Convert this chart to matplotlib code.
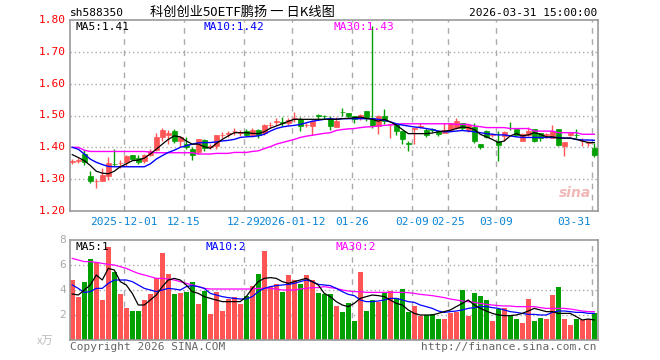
import numpy as np
import matplotlib
matplotlib.use("Agg")
import matplotlib.pyplot as plt
from matplotlib.patches import Rectangle

# ---------------- data ----------------
opens = [1.355,1.358,1.379,1.311,1.293,1.294,1.311,1.348,1.351,1.355,
         1.376,1.368,1.358,1.376,1.391,1.433,1.438,1.451,1.420,1.410,
         1.394,1.384,1.422,1.402,1.405,1.438,1.443,1.451,1.446,1.452,
         1.440,1.455,1.445,1.470,1.480,1.478,1.478,1.490,1.488,1.470,
         1.467,1.500,1.498,1.490,1.464,1.511,1.508,1.498,1.491,1.513,
         1.491,1.467,1.498,1.472,1.472,1.451,1.412,1.458,1.465,1.456,
         1.456,1.451,1.446,1.456,1.462,1.477,1.456,1.464,1.410,1.451,
         1.440,1.420,1.436,1.462,1.458,1.420,1.438,1.458,1.445,1.440,
         1.428,1.458,1.405,1.440,1.440,1.420,1.414,1.398]
closes = [1.356,1.359,1.353,1.293,1.293,1.312,1.350,1.347,1.352,1.374,
          1.363,1.355,1.376,1.389,1.433,1.453,1.445,1.420,1.432,1.402,
          1.376,1.425,1.397,1.403,1.438,1.439,1.444,1.451,1.447,1.440,
          1.455,1.440,1.470,1.471,1.481,1.477,1.485,1.491,1.468,1.471,
          1.482,1.499,1.497,1.468,1.482,1.510,1.498,1.488,1.503,1.493,
          1.467,1.498,1.484,1.473,1.451,1.425,1.411,1.461,1.466,1.439,
          1.455,1.441,1.456,1.477,1.484,1.462,1.470,1.420,1.400,1.434,
          1.441,1.408,1.449,1.461,1.438,1.441,1.452,1.420,1.429,1.441,
          1.450,1.408,1.418,1.446,1.439,1.421,1.416,1.377]
highs = [1.363,1.365,1.391,1.325,1.299,1.335,1.370,1.394,1.360,1.376,
         1.377,1.375,1.380,1.394,1.446,1.462,1.455,1.458,1.436,1.434,
         1.400,1.425,1.425,1.410,1.438,1.447,1.452,1.461,1.455,1.457,
         1.460,1.458,1.472,1.480,1.491,1.495,1.493,1.510,1.495,1.475,
         1.485,1.505,1.503,1.500,1.494,1.522,1.508,1.500,1.505,1.513,
         1.780,1.503,1.521,1.474,1.474,1.451,1.420,1.462,1.478,1.460,
         1.460,1.453,1.477,1.477,1.491,1.477,1.474,1.477,1.410,1.453,
         1.444,1.451,1.451,1.480,1.458,1.446,1.464,1.458,1.446,1.446,
         1.470,1.458,1.408,1.446,1.458,1.430,1.421,1.413]
lows = [1.347,1.350,1.343,1.288,1.272,1.294,1.296,1.342,1.335,1.340,
        1.360,1.348,1.352,1.372,1.388,1.420,1.410,1.415,1.400,1.394,
        1.360,1.380,1.390,1.395,1.395,1.430,1.432,1.440,1.436,1.435,
        1.432,1.430,1.438,1.462,1.470,1.468,1.470,1.480,1.450,1.465,
        1.440,1.490,1.490,1.455,1.464,1.498,1.493,1.475,1.485,1.482,
        1.462,1.441,1.472,1.430,1.439,1.412,1.389,1.412,1.462,1.434,
        1.449,1.436,1.446,1.451,1.457,1.455,1.448,1.415,1.395,1.430,
        1.432,1.358,1.420,1.455,1.436,1.420,1.436,1.418,1.420,1.430,
        1.428,1.403,1.372,1.436,1.428,1.404,1.404,1.370]
volumes = [4.80,3.44,4.64,6.48,6.24,3.20,7.44,5.44,3.68,2.56,
           2.32,2.32,3.20,3.68,4.96,6.96,5.28,3.68,3.76,3.84,
           4.64,2.88,3.92,2.08,3.84,2.32,3.28,3.44,2.88,3.52,
           4.32,5.28,7.12,4.24,4.48,3.84,5.20,4.80,4.48,5.20,
           4.80,3.76,3.68,3.68,2.72,2.24,2.96,1.52,5.44,2.32,
           3.20,3.04,3.84,3.92,3.36,4.08,2.24,2.72,1.92,2.00,
           2.08,1.68,1.68,2.16,2.24,4.00,1.92,3.76,3.52,3.20,
           1.52,2.48,2.56,1.92,1.68,1.36,3.28,1.52,1.76,1.68,
           3.60,4.24,1.68,1.20,1.68,1.60,1.68,2.16]

ma5 = [1.377,1.368,1.358,1.343,1.325,1.319,1.317,1.325,1.339,1.348,
       1.358,1.360,1.366,1.379,1.394,1.410,1.425,1.436,1.433,1.420,
       1.410,1.410,1.402,1.397,1.412,1.425,1.436,1.446,1.446,1.446,
       1.444,1.443,1.449,1.460,1.467,1.474,1.482,1.488,1.488,1.488,
       1.488,1.488,1.488,1.488,1.488,1.490,1.491,1.493,1.495,1.491,
       1.488,1.482,1.488,1.480,1.470,1.456,1.443,1.443,1.443,1.443,
       1.445,1.449,1.451,1.453,1.459,1.464,1.462,1.456,1.441,1.433,
       1.425,1.415,1.420,1.436,1.443,1.436,1.439,1.446,1.441,1.433,
       1.433,1.429,1.429,1.429,1.425,1.420,1.415,1.415]
ma10 = [1.400,1.394,1.379,1.363,1.353,1.346,1.340,1.339,1.339,1.339,
        1.339,1.339,1.339,1.348,1.363,1.374,1.384,1.391,1.400,1.405,
        1.410,1.414,1.415,1.415,1.417,1.420,1.422,1.425,1.431,1.433,
        1.434,1.436,1.441,1.451,1.459,1.464,1.467,1.469,1.472,1.477,
        1.482,1.485,1.488,1.490,1.488,1.490,1.490,1.490,1.490,1.490,
        1.490,1.488,1.485,1.480,1.474,1.470,1.467,1.464,1.462,1.459,
        1.456,1.451,1.449,1.449,1.451,1.453,1.451,1.449,1.446,1.443,
        1.441,1.439,1.439,1.436,1.433,1.431,1.431,1.431,1.431,1.431,
        1.431,1.431,1.429,1.429,1.425,1.423,1.423,1.422]
ma30 = [1.400,1.400,1.391,1.387,1.387,1.387,1.387,1.387,1.387,1.387,
        1.387,1.387,1.387,1.385,1.383,1.383,1.383,1.383,1.383,1.383,
        1.383,1.379,1.379,1.379,1.381,1.381,1.381,1.384,1.384,1.384,
        1.387,1.389,1.396,1.402,1.410,1.415,1.420,1.425,1.431,1.435,
        1.438,1.441,1.444,1.446,1.453,1.456,1.458,1.459,1.462,1.464,
        1.465,1.467,1.469,1.470,1.472,1.474,1.474,1.474,1.474,1.474,
        1.474,1.474,1.474,1.474,1.472,1.472,1.472,1.467,1.465,1.462,
        1.462,1.462,1.462,1.459,1.459,1.459,1.459,1.451,1.451,1.451,
        1.451,1.446,1.446,1.446,1.446,1.441,1.441,1.441]

vma5 = [3.68,3.60,4.00,4.40,5.20,4.80,5.73,5.60,4.67,4.40,
        3.73,2.80,2.80,3.20,3.60,4.27,4.80,4.93,4.80,4.40,
        3.87,3.73,3.47,3.33,3.20,3.07,3.07,3.07,3.07,3.47,
        4.13,4.67,4.93,4.99,4.93,4.67,4.53,4.67,4.80,4.93,
        4.67,4.40,3.73,3.47,3.07,2.80,2.67,2.93,3.33,3.47,
        3.60,3.55,3.47,3.20,2.93,2.80,2.40,2.13,2.00,2.00,
        2.00,2.13,2.27,2.40,2.67,2.93,3.20,2.80,2.53,2.32,
        2.13,2.00,1.95,1.95,2.00,2.13,2.32,2.53,2.40,2.27,
        2.27,2.13,2.13,2.13,1.87,1.60,1.68,1.60]
vma10 = [4.40,4.13,3.80,3.87,4.13,4.13,4.53,4.80,4.80,4.80,
         4.67,4.40,4.13,4.00,3.87,4.00,4.13,4.08,4.00,4.27,
         4.35,4.27,4.13,3.73,3.60,3.47,3.39,3.33,3.28,3.28,
         3.47,3.87,4.13,4.27,4.35,4.40,4.45,4.53,4.67,4.80,
         4.67,4.45,4.40,4.35,4.13,3.87,3.65,3.55,3.20,3.07,
         3.07,3.12,3.20,3.33,3.33,3.20,3.07,3.01,2.80,2.67,
         2.53,2.32,2.21,2.27,2.32,2.40,2.53,2.59,2.67,2.67,
         2.59,2.53,2.40,2.27,2.21,2.13,2.05,2.05,2.00,2.00,
         2.21,2.32,2.32,2.27,2.21,2.21,2.13,2.13]
vma30 = [6.53,6.40,6.27,6.27,6.21,6.13,6.05,6.00,5.87,5.73,
         5.52,5.33,5.20,5.07,4.93,4.93,4.88,4.80,4.67,4.53,
         4.40,4.27,4.13,4.08,4.08,4.08,4.08,4.08,4.08,4.08,
         4.08,4.13,4.13,4.13,4.08,4.00,4.00,4.00,4.08,4.13,
         4.19,4.19,4.27,4.19,4.13,4.00,3.92,3.87,3.87,3.81,
         3.81,3.81,3.81,3.81,3.81,3.81,3.79,3.73,3.65,3.60,
         3.55,3.47,3.39,3.28,3.20,3.12,3.07,3.01,2.93,2.85,
         2.80,2.75,2.72,2.72,2.67,2.67,2.67,2.67,2.59,2.53,
         2.53,2.53,2.53,2.48,2.40,2.32,2.27,2.27]

price_ticks = [1.20, 1.30, 1.40, 1.50, 1.60, 1.70, 1.80]
vol_ticks = [2, 4, 6, 8]
date_idx = [9, 19, 29, 37, 47, 57, 63, 71, 87]
date_labels = ["2025-12-01", "12-15", "12-29", "2026-01-12", "01-26",
               "02-09", "02-25", "03-09", "03-31"]

# ---------------- style ----------------
RED = "#ff5555"
GREEN = "#00a000"
BLUE_TXT = "#0a84d6"
GRID = "#aaaaaa"
MONO = "DejaVu Sans Mono"
plt.rcParams["font.family"] = [MONO, "Noto Sans CJK SC"]

W, H = 660, 360
fig = plt.figure(figsize=(W / 100, H / 100), dpi=100)

def fx(px):
    return px / W

def fy(py):
    return 1 - py / H

L, R = 70, 598
axp = fig.add_axes([fx(L), fy(211), fx(R - L), (211 - 20) / H])
axv = fig.add_axes([fx(L), fy(340), fx(R - L), (340 - 240) / H])

n = len(closes)
x = np.arange(n)
xlim = (-0.38, n - 0.38)
bw = 0.82

for ax in (axp, axv):
    ax.set_xlim(*xlim)
    ax.set_xticks([])
    ax.set_yticks([])
    for s in ax.spines.values():
        s.set_color("#999999")
        s.set_linewidth(1.2)
    for d in date_idx:
        ax.axvline(d - 0.38, color=GRID, lw=1, ls=(0, (4, 4)), zorder=0)

# price panel
axp.set_ylim(1.20, 1.80)
for p in [1.30, 1.40, 1.50, 1.60, 1.70]:
    axp.axhline(p, color=GRID, lw=1, ls=(0, (1, 2)), zorder=0)

for i in x:
    o, c, h, l = opens[i], closes[i], highs[i], lows[i]
    col = RED if c >= o else GREEN
    axp.vlines(i, l, h, color=col, lw=1, zorder=2)
    bot = min(o, c)
    ht = max(abs(c - o), 0.0012)
    axp.add_patch(Rectangle((i - bw / 2, bot), bw, ht, facecolor=col,
                            edgecolor=col, lw=0.5, zorder=3))

axp.plot(x, ma30, color="#ff00ff", lw=1.0, zorder=4)
axp.plot(x, ma10, color="#0000ff", lw=1.0, zorder=4)
axp.plot(x, ma5, color="#000000", lw=0.9, zorder=4)

# volume panel
axv.set_ylim(0, 8)
for v in [2, 4, 6]:
    axv.axhline(v, color=GRID, lw=1, ls=(0, (1, 2)), zorder=0)
vcols = [RED if closes[i] >= opens[i] else GREEN for i in x]
axv.bar(x, volumes, width=bw, color=vcols, zorder=2)
axv.plot(x, vma30, color="#ff00ff", lw=0.9, zorder=4)
axv.plot(x, vma10, color="#0000ff", lw=0.9, zorder=4)
axv.plot(x, vma5, color="#000000", lw=0.9, zorder=4)

# ---------------- texts ----------------
FS = 8
def t(px, py, s, color="black", ha="left", va="center", size=FS, family=None):
    kw = {}
    if family is not None:
        kw["family"] = family
    fig.text(fx(px), fy(py), s, color=color, ha=ha, va=va, fontsize=size, **kw)

t(70, 13, "sh588350")
t(150, 12, "科创创业50ETF鹏扬 一 日K线图", size=9.5,
  family=["Noto Sans CJK SC", "DejaVu Sans"])
t(597, 13, "2026-03-31 15:00:00", ha="right")

for p in price_ticks:
    py = 211 - (p - 1.20) / 0.60 * 191
    t(66, py, f"{p:.2f}", color="#ff0000", ha="right")

t(75, 27, "MA5:1.41")
t(204, 27, "MA10:1.42", color="#0000ff")
t(334, 27, "MA30:1.43", color="#ff00ff")

for d, lab in zip(date_idx, date_labels):
    px = 72.3 + 6 * d - 2.3
    if lab == "03-31":
        t(591, 222, lab, color=BLUE_TXT, ha="right")
    else:
        t(px, 222, lab, color=BLUE_TXT, ha="center")

for v in vol_ticks:
    py = 340 - v / 8 * 100
    t(66, py, str(v), color="#aaaaaa", ha="right")
t(53, 341, "x万", color="#bbbbbb", ha="right",
  family=["Noto Sans CJK SC", "DejaVu Sans"])

t(75, 247, "MA5:1")
t(205, 247, "MA10:2", color="#0000ff")
t(335, 247, "MA30:2", color="#ff00ff")

t(70, 347, "Copyright 2026 SINA.COM", color="#666666")
t(597, 347, "http://finance.sina.com.cn", color="#666666", ha="right")

fig.text(fx(575), fy(193), "sina", color="#f0b8b8", ha="center", va="center",
         fontsize=10, fontweight="bold", style="italic", family="DejaVu Sans")

fig.savefig("out.png", dpi=100)
